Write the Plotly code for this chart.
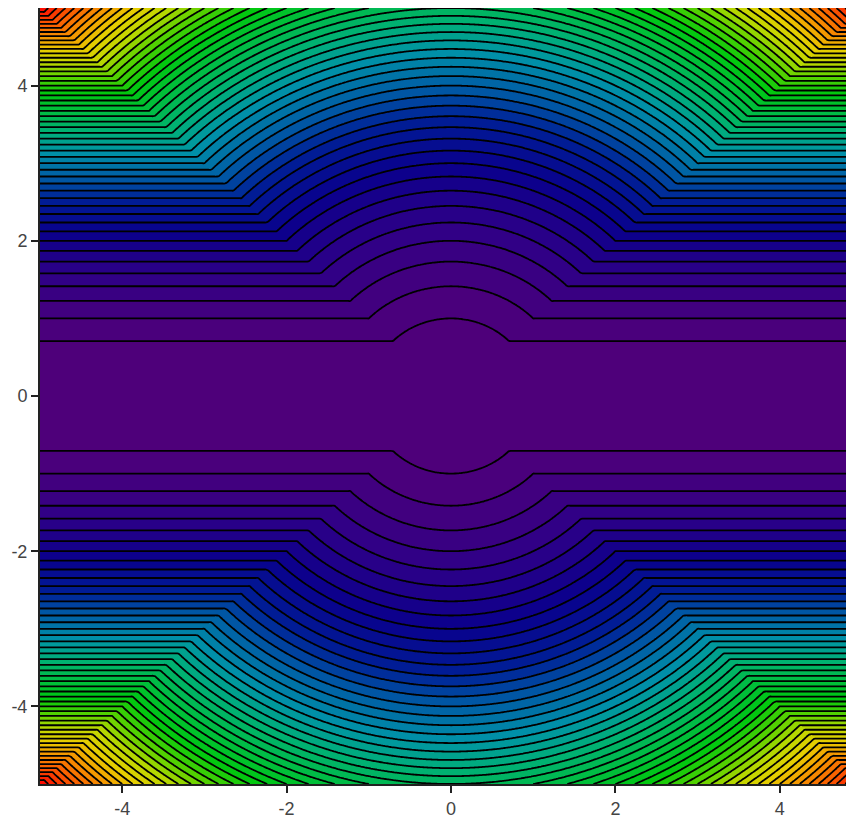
"""
Filled contour map of z = min(y^2, (x^2 + y^2) / 2) with black contour lines.
"""

import numpy as np
import plotly.graph_objects as go

x_range = [-5.0, 5.0]
y_range = [-5.0, 5.0]
grid_points = 401

# contour levels
level_start = 0.5
level_end = 25.0
level_step = 0.5

tick_values = [-4, -2, 0, 2, 4]
tick_labels = ["-4", "-2", "0", "2", "4"]

colorscale = [
    [0.00, "rgb(78,0,122)"],
    [0.08, "rgb(45,0,135)"],
    [0.16, "rgb(10,0,140)"],
    [0.24, "rgb(0,30,150)"],
    [0.30, "rgb(0,90,165)"],
    [0.38, "rgb(0,145,168)"],
    [0.45, "rgb(0,175,120)"],
    [0.52, "rgb(0,188,70)"],
    [0.60, "rgb(0,200,15)"],
    [0.67, "rgb(90,210,0)"],
    [0.73, "rgb(190,215,0)"],
    [0.79, "rgb(232,205,0)"],
    [0.85, "rgb(245,150,0)"],
    [0.93, "rgb(250,80,0)"],
    [1.00, "rgb(255,0,0)"],
]


def build_field():
    x = np.linspace(x_range[0], x_range[1], grid_points)
    y = np.linspace(y_range[0], y_range[1], grid_points)
    xx, yy = np.meshgrid(x, y)
    z = np.minimum(yy ** 2, (xx ** 2 + yy ** 2) / 2.0)
    return x, y, z


x, y, z = build_field()

fig = go.Figure(
    go.Contour(
        x=x,
        y=y,
        z=z,
        zmin=0.0,
        zmax=level_end,
        colorscale=colorscale,
        contours=dict(start=level_start, end=level_end, size=level_step,
                      coloring="fill"),
        line=dict(color="black", width=1.8),
        showscale=False,
    )
)

axis_style = dict(
    showgrid=False,
    zeroline=False,
    showline=True,
    mirror=True,
    linecolor="#222222",
    linewidth=2,
    ticks="outside",
    ticklen=7,
    tickwidth=2,
    tickcolor="#222222",
    tickvals=tick_values,
    ticktext=tick_labels,
    automargin=False,
    tickfont=dict(family="Liberation Sans, Arial", size=18, color="#444444"),
)

fig.update_xaxes(range=x_range, **axis_style)
fig.update_yaxes(range=y_range, **axis_style)

fig.update_layout(
    width=854,
    height=810,
    margin=dict(l=32, r=0, t=0, b=34),
    plot_bgcolor="white",
    paper_bgcolor="white",
)

fig.write_html("out.html")
